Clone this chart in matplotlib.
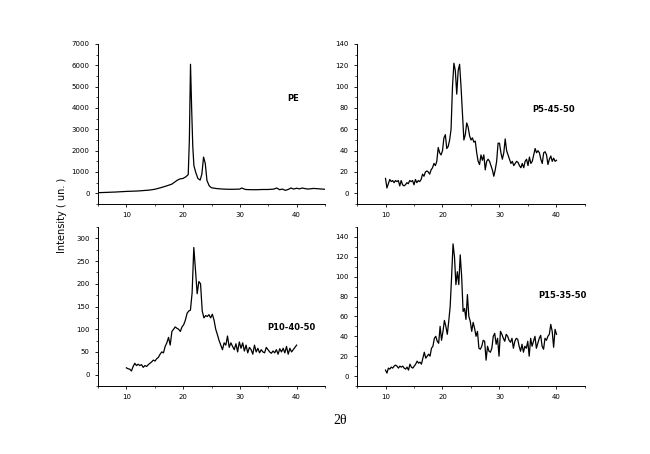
import numpy as np
import matplotlib
matplotlib.use("Agg")
import matplotlib.pyplot as plt
from matplotlib.ticker import MultipleLocator

pe_x = [5,8,10,12,14,15,16,17,18,19,19.5,20,20.5,20.9,21.1,21.3,21.5,21.7,21.9,22.2,22.6,23.0,23.3,23.6,23.9,24.2,24.6,25,26,27,28,29,30,30.3,31,32,33,34,35,36,36.5,37,37.5,38,38.5,39,39.5,40,40.5,41,41.5,42,43,44,45]
pe_y = [30,60,90,110,150,190,260,340,430,620,680,700,780,880,2500,6050,4000,2200,1300,1000,700,620,900,1700,1400,600,350,260,220,200,190,190,200,250,180,170,170,180,180,200,250,170,200,140,180,250,200,240,210,250,220,200,230,210,190]

p5_y = [14,5,9,13,11,12,10,12,11,12,7,12,8,7,8,10,9,12,11,12,8,13,10,12,11,13,18,16,20,21,20,18,22,24,28,26,30,43,38,36,40,52,55,42,44,50,60,100,122,115,93,115,121,100,75,50,55,66,62,54,50,52,48,49,38,30,27,36,31,36,22,30,32,30,26,22,16,22,30,47,47,38,32,38,51,40,36,32,28,30,26,28,30,29,26,24,28,24,30,32,26,34,28,30,36,42,38,40,38,32,28,38,39,36,27,32,35,30,33,30,31]

p10_y = [15,13,12,8,18,25,20,23,20,22,16,20,18,22,25,28,32,30,35,38,45,50,48,62,70,82,65,95,100,105,102,100,95,105,110,120,135,140,142,180,280,230,178,205,200,140,125,130,128,132,125,133,120,100,88,75,65,55,70,65,85,60,70,62,55,68,50,72,58,70,52,65,48,60,55,45,65,50,58,48,55,50,48,60,55,50,47,52,48,55,45,57,50,58,48,62,45,58,50,55,60,65]

p15_y = [6,3,8,7,9,8,10,11,10,8,10,9,10,8,7,9,6,12,9,8,10,12,15,13,14,12,18,24,18,20,22,20,28,30,38,40,35,33,50,36,45,56,50,42,55,70,100,133,120,92,105,92,122,100,65,68,57,82,60,55,45,54,48,40,45,28,27,30,36,35,16,30,25,24,28,40,43,32,38,20,45,42,38,35,42,40,36,34,38,28,35,38,37,30,25,32,24,30,28,35,20,38,30,35,40,28,33,38,41,30,27,38,36,40,42,52,45,29,47,42]

fig = plt.figure(figsize=(6.5, 4.54), dpi=100)
W, H = 650, 454
def ax_at(l, t, r, b):
    return fig.add_axes([l/W, 1-b/H, (r-l)/W, (b-t)/H])

specs = [
    ((98, 44, 325, 204), pe_x, pe_y, (-500, 7000), 1000, 500, "PE", (0.86, 0.66)),
    ((357, 44, 585, 204), list(np.linspace(10, 40, len(p5_y))), p5_y, (-10, 140), 20, 10, "P5-45-50", (0.86, 0.59)),
    ((98, 227, 325, 386), list(np.linspace(10, 40, len(p10_y))), p10_y, (-25, 325), 50, 25, "P10-40-50", (0.85, 0.37)),
    ((357, 227, 585, 386), list(np.linspace(10, 40, len(p15_y))), p15_y, (-10, 150), 20, 10, "P15-35-50", (0.9, 0.57)),
]
for box, x, y, yl, maj, mnr, lab, pos in specs:
    ax = ax_at(*box)
    ax.plot(x, y, color="black", lw=0.9)
    ax.set_xlim(5, 45)
    ax.set_ylim(*yl)
    ax.set_xticks([10, 20, 30, 40])
    ax.xaxis.set_minor_locator(MultipleLocator(5))
    ax.yaxis.set_major_locator(MultipleLocator(maj))
    ax.yaxis.set_minor_locator(MultipleLocator(mnr))
    ax.set_yticks([t for t in ax.get_yticks() if 0 <= t <= yl[1] + 1e-9])
    ax.set_ylim(*yl)
    for s in ("top", "right"):
        ax.spines[s].set_visible(False)
    for s in ("left", "bottom"):
        ax.spines[s].set_linewidth(0.7)
    ax.tick_params(labelsize=5, width=0.6, length=2.5, direction="out")
    ax.tick_params(which="minor", width=0.5, length=1.5)
    ax.text(pos[0], pos[1], lab, transform=ax.transAxes, ha="center", va="center",
            fontsize=6, fontweight="bold")

fig.text(62/W, 1-215/H, "Intensity ( un. )", rotation=90, ha="center", va="center", fontsize=7)
fig.text(340/W, 1-421/H, "2θ", ha="center", va="center", fontsize=10, family="Liberation Serif")
fig.savefig("out.png", dpi=100)
